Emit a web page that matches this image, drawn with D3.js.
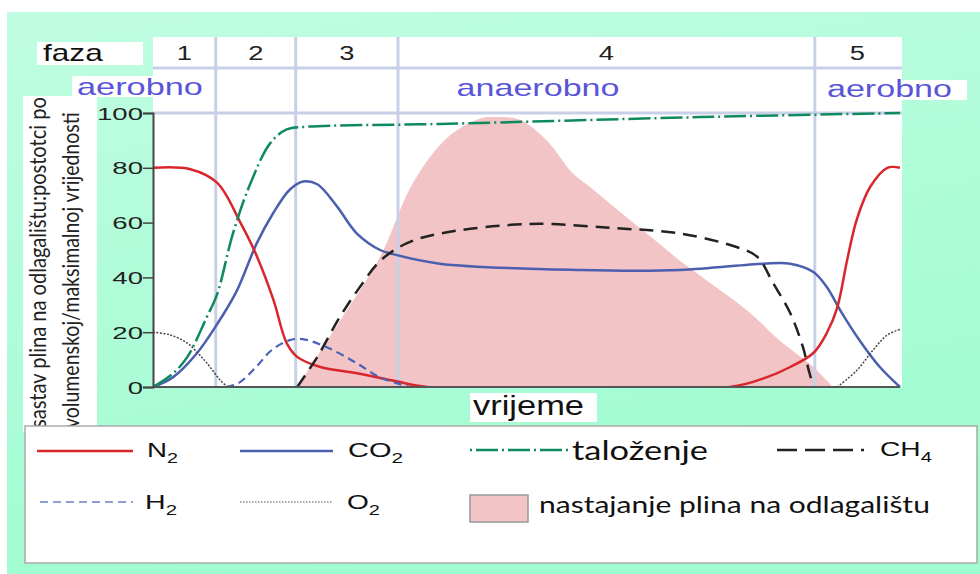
<!DOCTYPE html>
<html><head><meta charset="utf-8">
<script src="https://cdn.jsdelivr.net/npm/d3@7"></script>
<style>html,body{margin:0;padding:0;background:#fff;overflow:hidden}</style>
</head><body>
<svg id="c" width="980" height="574"></svg>
<script>
// ---------- data ----------
const phaseLabels = ["1", "2", "3", "4", "5"];
const phaseBounds = [0, 8.4, 19.1, 32.8, 88.6, 100];
const regimeLabels = ["aerobno", "anaerobno", "aerobno"];
const yTicks = [0, 20, 40, 60, 80, 100];
const seriesNames = ["N2", "CO2", "taloženje", "CH4", "H2", "O2", "nastajanje plina na odlagalištu"];

const n2 = [[0,80],[5,79.5],[8.6,74.5],[11.7,60],[13.7,49],[16.1,32],[17.9,16],[19.3,11],[22.4,7.3],[27.3,5],[32.7,2],[36.7,0],[77.2,0],[82.2,3.6],[85.3,7.3],[88.4,12.4],[90.2,19.7],[91.6,29],[92.9,46],[94.2,61],[96,73],[98.3,80],[100,80]];
const co2 = [[0,0],[2.7,3.6],[5.9,12.4],[8.6,23],[11.2,35],[13.9,52.5],[16.1,63.5],[18.3,72],[20.1,75],[22,74],[24.6,66],[27.3,56],[30.4,50],[32.1,48.5],[38.4,45],[57.2,42.7],[70.6,42.7],[81.7,45],[85.3,45],[88.4,42],[90.2,36.5],[92,28],[94.6,17],[97.3,7.3],[100,0]];
const talozenje = [[0,0],[2.7,5],[4.6,11],[7.2,25.5],[8.6,34],[10.7,56],[13,74],[15.7,89],[17.9,94],[20.6,95],[38.4,96],[73.2,98.5],[100,100]];
const ch4 = [[19.3,0],[22,11],[25,25.5],[27.7,36.5],[30.4,46],[34,52.5],[38.4,56],[50.5,59.5],[61.6,58],[70.6,56],[78.2,51],[80.9,47.5],[83,38],[85.3,27],[87,14.6],[87.7,7],[88.4,0]];
const h2 = [[9.8,0],[11.5,1.5],[13.8,7.3],[15.9,13.5],[18.2,17],[20,17.5],[23.2,14.6],[27.2,8.8],[30.3,3.6],[32.5,1.5],[34.4,0]];
const o2a = [[0,20],[2.3,19],[4.6,16],[6,12.4],[7.2,8.8],[9,2.5],[10,0]];
const o2b = [[91.6,0],[94.2,6],[96.4,13.5],[98.3,19],[100,21]];
const gasProduction = [[19.3,0],[25,24],[30.4,47.5],[34.8,74.5],[39.4,91],[43.8,98],[46.1,98.5],[49.1,97.5],[52.7,90],[56.2,78],[58.5,73],[61.6,66],[66.1,56],[70.6,46],[79.5,28],[83.9,17],[88.4,7.3],[91,0]];

// ---------- layout ----------
const svg = d3.select("#c");
const L = 153, R = 900, T = 113, B = 387;
const x = d3.scaleLinear().domain([0, 100]).range([L, R]);
const y = d3.scaleLinear().domain([0, 100]).range([B, T]);

const defs = svg.append("defs");
const grad = defs.append("linearGradient").attr("id", "bg").attr("x1", 0).attr("y1", 0).attr("x2", 0.3).attr("y2", 1);
grad.append("stop").attr("offset", "0%").attr("stop-color", "#c0fde2");
grad.append("stop").attr("offset", "100%").attr("stop-color", "#9ffcd0");
defs.append("clipPath").attr("id", "clip").append("rect")
  .attr("x", L).attr("y", 100).attr("width", R - L + 2).attr("height", B - 100 + 1);

svg.append("rect").attr("width", 980).attr("height", 574).attr("fill", "#fff");
svg.append("rect").attr("x", 7).attr("y", 12).attr("width", 973).attr("height", 562).attr("fill", "url(#bg)");

// text helper: draws text and stretches it horizontally to a target width
function fitText(parent, o) {
  const g = parent.append("g");
  const t = g.append("text")
    .attr("font-family", o.family || "'Liberation Sans', Arial, sans-serif")
    .attr("font-size", o.size)
    .attr("fill", o.fill || "#111")
    .attr("text-anchor", o.anchor || "start");
  if (o.parts) {
    o.parts.forEach(p => {
      const ts = t.append("tspan").text(p.t);
      if (p.size) ts.attr("font-size", p.size);
      if (p.dy) ts.attr("dy", p.dy);
    });
  } else t.text(o.text);
  const w = t.node().getBBox().width;
  const sx = o.width ? o.width / w : (o.sx || 1);
  const sy = o.sy || 1;
  g.attr("transform", `translate(${o.x},${o.y})` + (o.rotate ? ` rotate(${o.rotate})` : "") + ` scale(${sx},${sy})`);
  return g;
}

// white panels
svg.append("rect").attr("x", L).attr("y", 37).attr("width", 902 - L).attr("height", B - 37).attr("fill", "#fff");
svg.append("rect").attr("x", 37).attr("y", 42).attr("width", 106).attr("height", 23).attr("fill", "#fff");
svg.append("rect").attr("x", 72).attr("y", 76).attr("width", 143).attr("height", 21).attr("fill", "#fff");
svg.append("rect").attr("x", 822).attr("y", 80).attr("width", 145).attr("height", 20).attr("fill", "#fff");
svg.append("rect").attr("x", 23).attr("y", 96).attr("width", 74).attr("height", 336).attr("fill", "#fff");
svg.append("rect").attr("x", 470).attr("y", 393).attr("width", 127).attr("height", 29).attr("fill", "#fff");

const plot = svg.append("g").attr("clip-path", "url(#clip)");

// gas production area
const area = d3.area().x(d => x(d[0])).y0(y(0)).y1(d => y(d[1])).curve(d3.curveCatmullRom.alpha(0.5));
plot.append("path").datum(gasProduction).attr("d", area).attr("fill", "#f2c4c6");

// grid / header lines
const gridC = "#c8d0e8";
svg.append("line").attr("x1", L).attr("x2", 902).attr("y1", 68).attr("y2", 68).attr("stroke", gridC).attr("stroke-width", 3);
svg.append("line").attr("x1", L).attr("x2", 902).attr("y1", y(100)).attr("y2", y(100)).attr("stroke", gridC).attr("stroke-width", 3);
svg.selectAll("line.ph").data(phaseBounds.slice(1, -1)).enter().append("line")
  .attr("x1", d => x(d)).attr("x2", d => x(d)).attr("y1", 37).attr("y2", B)
  .attr("stroke", gridC).attr("stroke-width", 3);

// header labels
fitText(svg, {x: 43, y: 61, text: "faza", size: 23, width: 60, fill: "#111"});
phaseLabels.forEach((p, i) => {
  const cx = (x(phaseBounds[i]) + x(phaseBounds[i + 1])) / 2;
  fitText(svg, {x: cx, y: 60, text: p, size: 21, sx: 1.3, anchor: "middle", fill: "#222"});
});
const regC = "#5a55d8";
fitText(svg, {x: 77, y: 95, text: regimeLabels[0], size: 23, width: 126, fill: regC});
fitText(svg, {x: 538, y: 96, text: regimeLabels[1], size: 23, width: 163, anchor: "middle", fill: regC});
fitText(svg, {x: 827, y: 97, text: regimeLabels[2], size: 23, width: 125, fill: regC});

// series lines
const line = d3.line().x(d => x(d[0])).y(d => y(d[1])).curve(d3.curveCatmullRom.alpha(0.5));
const lines = svg.append("g").attr("clip-path", "url(#clip)");
function drawLine(data, color, width, dash) {
  const p = lines.append("path").datum(data).attr("d", line).attr("fill", "none")
    .attr("stroke", color).attr("stroke-width", width).attr("stroke-linecap", "butt");
  if (dash) p.attr("stroke-dasharray", dash);
}
const C = {n2: "#d8262c", co2: "#4b5fae", tal: "#0f8a5f", ch4: "#222", h2: "#4a62b6", o2: "#444"};
drawLine(co2, C.co2, 2.5);
drawLine(n2, C.n2, 2.5);
drawLine(talozenje, C.tal, 2.5, "22,4,2,4");
drawLine(ch4, C.ch4, 2.5, "14,8");
drawLine(h2, C.h2, 2.2, "8,5");
drawLine(o2a, C.o2, 1.5, "2,1.5");
drawLine(o2b, C.o2, 1.5, "2,1.5");

// axes
svg.append("line").attr("x1", L).attr("x2", R).attr("y1", B).attr("y2", B).attr("stroke", "#555").attr("stroke-width", 2);
const yAxis = svg.append("g").attr("transform", `translate(${L},0)`)
  .call(d3.axisLeft(y).tickValues(yTicks).tickSize(10).tickFormat(d3.format("d")));
yAxis.select(".domain").attr("stroke", "#444").attr("stroke-width", 2);
yAxis.selectAll(".tick line").attr("stroke", "#444").attr("stroke-width", 1.5);
yAxis.selectAll(".tick text").each(function(d) {
  const t = d3.select(this);
  t.attr("x", 0).attr("dy", null).attr("y", 0)
   .attr("font-family", "'Liberation Sans', Arial, sans-serif").attr("font-size", 17).attr("fill", "#222")
   .attr("text-anchor", "end")
   .attr("transform", "translate(-10,6) scale(1.62,1)");
});

// axis titles
fitText(svg, {x: 473, y: 415, text: "vrijeme", size: 27, width: 111, fill: "#111"});
const titleFont = "Lato, 'Open Sans', sans-serif";
fitText(svg, {x: 46, y: 428, rotate: -90, text: "sastav plina na odlagalištu:postotci po", size: 18, width: 331, sy: 1.3, family: titleFont, fill: "#222"});
fitText(svg, {x: 79, y: 428, rotate: -90, text: "volumenskoj/maksimalnoj vrijednosti", size: 18, width: 316, sy: 1.3, family: titleFont, fill: "#222"});

// legend
const lg = svg.append("g");
lg.append("rect").attr("x", 25).attr("y", 426).attr("width", 952).attr("height", 137)
  .attr("fill", "#fff").attr("stroke", "#aaa").attr("stroke-width", 1.5);
function legLine(x1, x2, yy, color, w, dash) {
  const l = lg.append("line").attr("x1", x1).attr("x2", x2).attr("y1", yy).attr("y2", yy)
    .attr("stroke", color).attr("stroke-width", w);
  if (dash) l.attr("stroke-dasharray", dash);
}
legLine(37, 133, 451, C.n2, 2.5);
legLine(240, 333, 451, C.co2, 2.5);
legLine(470, 568, 450, C.tal, 2.5, "2,4,22,4");
legLine(777, 866, 450, C.ch4, 2.5, "20,8,20,8,20,8,3,8");
legLine(40, 133, 502, "#6a80c8", 1.5, "8,5");
legLine(240, 333, 502, "#555", 1.2, "1.5,1.5");
lg.append("rect").attr("x", 470).attr("y", 495).attr("width", 58).attr("height", 27)
  .attr("fill", "#f2c4c6").attr("stroke", "#999").attr("stroke-width", 1.5);

const legFont = "'Liberation Sans', Arial, sans-serif";
function sub(main, s) { return [{t: main}, {t: s, size: 15, dy: 6}]; }
fitText(lg, {x: 147, y: 457, parts: sub("N", "2"), size: 21, width: 31, family: legFont});
fitText(lg, {x: 348, y: 457, parts: sub("CO", "2"), size: 21, width: 55, family: legFont});
fitText(lg, {x: 880, y: 456, parts: sub("CH", "4"), size: 21, width: 52, family: legFont});
fitText(lg, {x: 145, y: 509, parts: sub("H", "2"), size: 21, width: 32, family: legFont});
fitText(lg, {x: 347, y: 509, parts: sub("O", "2"), size: 21, width: 33, family: legFont});
fitText(lg, {x: 572, y: 460, text: seriesNames[2], size: 27, width: 136, family: titleFont});
fitText(lg, {x: 539, y: 513, text: seriesNames[6], size: 23, width: 391, family: titleFont});
</script>
</body></html>
